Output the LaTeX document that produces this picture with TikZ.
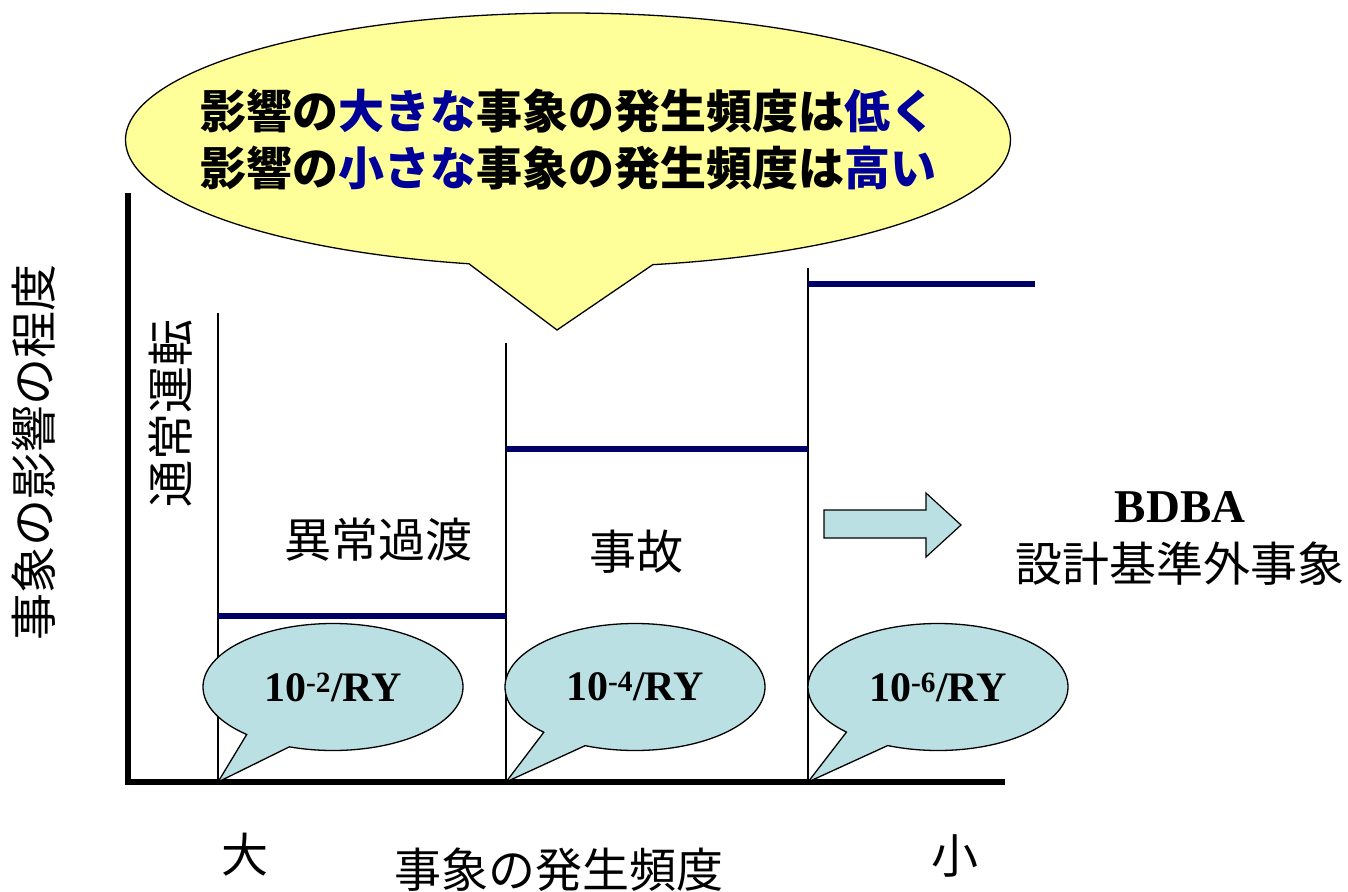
\documentclass[tikz,border=0pt]{standalone}
\usepackage{fontspec}
\setmainfont{Liberation Serif}
\newfontfamily\jpfont{Noto Sans CJK JP}
\usetikzlibrary{shapes.geometric, shapes.callouts, positioning}
\definecolor{navyline}{HTML}{000066}
\definecolor{hiblue}{HTML}{000099}
\definecolor{bubbleblue}{HTML}{BBE0E3}
\definecolor{bubbleyellow}{HTML}{FFFF99}

\begin{document}
\begin{tikzpicture}[x=1pt, y=-1pt,
  bubble/.style={ellipse callout, draw, line width=1.3pt, fill=bubbleblue,
    minimum width=260pt, minimum height=127pt, inner sep=0pt,
    callout pointer arc=22,
    font=\bfseries\fontsize{42}{42}\selectfont},
  level/.style={draw=navyline, line width=6pt},
  divider/.style={draw, line width=1.2pt},
  axis/.style={draw, line width=6.5pt},
  jp/.style={font=\jpfont\fontsize{47}{47}\selectfont}]

  \useasboundingbox (0,0) rectangle (1348,891);

  % axes
  \coordinate (o) at (128,782);
  \draw[axis] (128,193) -- (o) -- (1005,782);

  % band borders
  \coordinate (b1) at (218,782);
  \coordinate (b2) at (506,782);
  \coordinate (b3) at (808,782);
  \draw[divider] (218,313) -- (b1);
  \draw[divider] (506,343) -- (b2);
  \draw[divider] (808,268) -- (b3);

  % levels
  \draw[level] (218,616) -- (506,616);
  \draw[level] (506,449) -- (808,449);
  \draw[level] (808,284) -- (1035,284);

  % labels
  \node[jp, rotate=90] (impact) at (34,452) {事象の影響の程度};
  \node[jp, rotate=90] (normal) at (171,413) {通常運転};
  \node[jp] (transient) at (378,540) {異常過渡};
  \node[jp] (accident) at (636,552) {事故};
  \node[font=\bfseries\fontsize{47}{47}\selectfont] (bdba) at (1180,507) {BDBA};
  \node[jp, below=12pt of bdba] (beyond) {設計基準外事象};
  \node[jp] (large) at (245,855) {大};
  \node[jp] (small) at (955,856) {小};
  \node[jp] (freq) at (559,870) {事象の発生頻度};

  % arrow to BDBA
  \draw[fill=bubbleblue, line width=1.2pt] (824,510) -- (926,510) -- (926,493)
    -- (961,525) -- (926,557) -- (926,538) -- (824,538) -- cycle;

  % frequency bubbles
  \node[bubble, callout absolute pointer={(b1)}] (f2) at (333,687) {10\textsuperscript{-2}/RY};
  \node[bubble, callout absolute pointer={(b2)}] (f4) at (635,687) {10\textsuperscript{-4}/RY};
  \node[bubble, callout absolute pointer={(b3)}] (f6) at (938,687) {10\textsuperscript{-6}/RY};

  % main message
  \coordinate (msgtip) at (557,330);
  \node[ellipse callout, draw, line width=1.3pt, fill=bubbleyellow,
    minimum width=885pt, minimum height=254pt, inner xsep=-120pt, inner ysep=0pt,
    callout absolute pointer={(msgtip)}, callout pointer arc=24,
    align=center, font=\jpfont\bfseries\fontsize{46}{57}\selectfont] (msg) at (568,140)
    {影響の{\color{hiblue}大きな}事象の発生頻度は{\color{hiblue}低く}\\
     影響の{\color{hiblue}小さな}事象の発生頻度は{\color{hiblue}高い}};
\end{tikzpicture}
\end{document}
